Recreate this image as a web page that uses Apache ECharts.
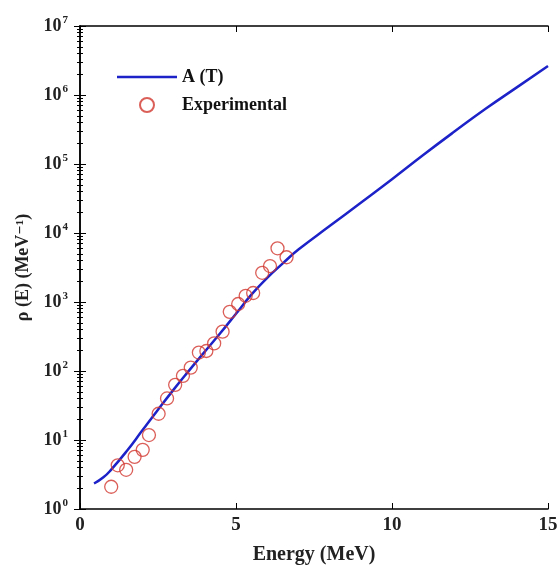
<!DOCTYPE html>
<html>
<head>
<meta charset="utf-8">
<script src="https://cdn.jsdelivr.net/npm/echarts@6/dist/echarts.min.js"></script>
<style>
  html, body { margin: 0; padding: 0; background: #fff; }
  #main { width: 558px; height: 566px; }
</style>
</head>
<body>
<div id="main"></div>
<script>
// curve A (T)
const curveE = [0.45, 0.75, 1.0, 1.5, 2.0, 2.5, 3.0, 3.5, 4.0, 4.5, 5.0, 5.5, 6.0, 6.5, 7.0, 8.0, 9.0, 10, 11, 12, 13, 14, 15];
const curveRho = [2.34, 2.88, 3.72, 6.92, 13.8, 27.5, 53.7, 102, 191, 355, 676, 1290, 2240, 3630, 5750, 12600, 27500, 60300, 135000, 295000, 631000, 1290000, 2630000];
// experimental points
const expE = [1.0, 1.21, 1.48, 1.75, 2.01, 2.21, 2.52, 2.79, 3.05, 3.30, 3.55, 3.81, 4.05, 4.30, 4.57, 4.80, 5.07, 5.31, 5.55, 5.84, 6.09, 6.33, 6.62];
const expRho = [2.1, 4.3, 3.7, 5.7, 7.2, 11.8, 24, 40, 63, 85, 112, 185, 195, 251, 372, 720, 935, 1230, 1350, 2650, 3320, 6000, 4450];
const xTicks = [0, 5, 10, 15];

const serif = '"Liberation Serif", "DejaVu Serif", serif';
const myChart = echarts.init(document.getElementById('main'));

const frameLine = { show: true, lineStyle: { color: '#000', width: 1.5 } };
const inTick = { show: true, inside: true, length: 6, lineStyle: { color: '#000', width: 1 } };

const option = {
    animation: false,
    backgroundColor: '#fff',
    grid: { left: 80, right: 10, top: 26, bottom: 57, containLabel: false, outerBoundsMode: 'none' },
    legend: {
        orient: 'vertical',
        left: 112,
        top: 63,
        itemWidth: 60,
        itemHeight: 14,
        itemGap: 10,
        textStyle: { fontFamily: serif, fontWeight: 'bold', fontSize: 18, color: '#111' },
        data: [{ name: 'A (T)', icon: 'path://M0,0L60,0L60,2.5L0,2.5Z' }, 'Experimental']
    },
    xAxis: [
        {
            type: 'value', min: 0, max: 15, interval: 5,
            name: 'Energy (MeV)', nameLocation: 'middle', nameGap: 36,
            nameTextStyle: { fontFamily: serif, fontWeight: 'bold', fontSize: 20, color: '#222' },
            axisLine: frameLine, axisTick: inTick,
            axisLabel: { fontFamily: serif, fontWeight: 'bold', fontSize: 19, color: '#222', margin: 7,
                formatter: v => xTicks.includes(v) ? String(v) : '' },
            splitLine: { show: false }
        },
        {
            type: 'value', min: 0, max: 15, interval: 5, position: 'top',
            axisLine: frameLine, axisTick: inTick, axisLabel: { show: false }, splitLine: { show: false }
        }
    ],
    yAxis: [
        {
            type: 'log', logBase: 10, min: 1, max: 1e7,
            name: 'ρ (E) (MeV⁻¹)', nameLocation: 'middle', nameGap: 38, nameRotate: 90,
            nameTextStyle: { fontFamily: serif, fontWeight: 'bold', fontSize: 18, color: '#222' },
            axisLine: frameLine, axisTick: inTick,
            minorTick: { show: true, splitNumber: 9, length: 3, lineStyle: { color: '#000' } },
            axisLabel: {
                margin: 12,
                formatter: v => '{b|10}{s|' + Math.round(Math.log10(v)) + '}',
                rich: {
                    b: { fontFamily: serif, fontWeight: 'bold', fontSize: 18, color: '#222' },
                    s: { fontFamily: serif, fontWeight: 'bold', fontSize: 11, color: '#222', padding: [0, 0, 12, 1] }
                }
            },
            splitLine: { show: false }
        },
        {
            type: 'log', logBase: 10, min: 1, max: 1e7, position: 'right',
            axisLine: frameLine, axisTick: inTick,
            minorTick: { show: true, splitNumber: 9, length: 3, lineStyle: { color: '#000' } },
            axisLabel: { show: false }, splitLine: { show: false }
        }
    ],
    series: [
        {
            name: 'A (T)',
            type: 'line',
            smooth: true,
            symbol: 'none',
            lineStyle: { color: '#1c22c8', width: 2.5 },
            itemStyle: { color: '#1c22c8' },
            data: curveE.map((e, i) => [e, curveRho[i]]),
            z: 3
        },
        {
            name: 'Experimental',
            type: 'scatter',
            symbol: 'circle',
            symbolSize: 13,
            itemStyle: { color: 'rgba(255,255,255,0)', borderColor: '#d2372f', borderWidth: 1.3 },
            data: expE.map((e, i) => [e, expRho[i]]),
            z: 4
        }
    ]
};
myChart.setOption(option);
</script>
</body>
</html>
